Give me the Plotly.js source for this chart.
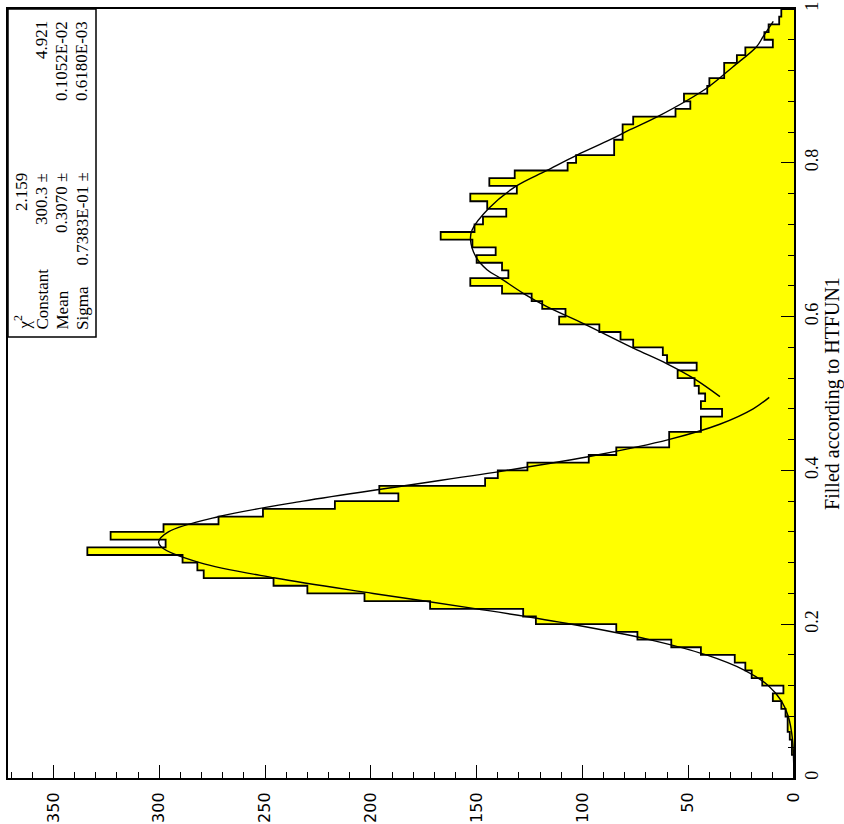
<!DOCTYPE html>
<html>
<head>
<meta charset="utf-8">
<script src="https://cdn.plot.ly/plotly-3.0.1.min.js"></script>
<style>html,body{margin:0;padding:0;background:#fff;}#chart{width:844px;height:824px;}</style>
</head>
<body>
<div id="chart"></div>
<script>
// Histogram: 100 bins on [0,1]
const binLow = 0, binHigh = 1, nBins = 100;
const binCounts = [0,0,0,1,1,2,3,3,4,6,
  10,5,15,20,23,28,44,58,74,84,
  122,128,172,203,230,246,279,282,289,334,
  297,323,298,272,251,217,187,196,146,140,
  126,97,84,59,59,44,44,34,44,42,
  45,47,55,46,60,62,76,82,92,111,
  108,119,124,138,153,135,138,150,141,152,
  167,151,147,136,145,153,131,144,132,107,
  103,85,85,81,81,76,56,49,52,41,
  40,33,33,27,23,10,14,12,7,6];

// Fitted curves
const fit1X = [0.00,0.05,0.08,0.10,0.12,0.14,0.16,0.18,0.20,0.22,0.24,0.26,0.28,0.30,0.307,0.32,0.34,0.36,0.38,0.40,0.42,0.44,0.46,0.48,0.495];
const fit1Y = [0.05,0.7,2.7,5.9,12.1,23.3,41.4,68.4,105.1,150.0,198.9,245.2,280.9,298.9,300.3,295.7,271.7,232.1,184.2,135.8,93.1,59.3,35.1,19.3,11.7];
const fit2X = [0.496,0.520,0.539,0.559,0.591,0.613,0.630,0.650,0.661,0.677,0.700,0.713,0.741,0.769,0.790,0.810,0.830,0.843,0.860,0.897,0.925,0.951,0.964,0.984];
const fit2Y = [35.0,47.6,60.2,75.9,99.5,116.8,127.8,138.8,145.1,150.2,152.9,152.1,144.2,131.7,116.8,102.6,86.9,77.5,64.5,41.3,28.8,17.7,14.6,9.8];

// Statistics box
const statLabels = ['χ<sup>2</sup>', 'Constant', 'Mean', 'Sigma'];
const statValues = ['2.159', '300.3 ±', '0.3070 ±', '0.7383E-01 ±'];
const statErrors = ['', '4.921', '0.1052E-02', '0.6180E-03'];

const xTitle = 'Filled according to HTFUN1';

// ---- build ----
const bw = (binHigh - binLow) / nBins;
const centers = binCounts.map((_, i) => binLow + (i + 0.5) * bw);
// staircase outline
const stX = [0], stY = [binLow];
binCounts.forEach((c, i) => { stX.push(c); stY.push(binLow + i * bw); });
stX.push(binCounts[nBins - 1]); stY.push(binHigh);
stX.push(0); stY.push(binHigh);

const serif = 'Liberation Serif';
const traces = [
  {type:'bar', orientation:'h', x: binCounts, y: centers, width: bw,
   marker:{color:'#ffff00', line:{width:0}}, hoverinfo:'skip'},
  {type:'scatter', mode:'lines', x: stX, y: stY, line:{color:'black', width:1.8, shape:'vh'}},
  {type:'scatter', mode:'lines', x: fit1Y, y: fit1X, line:{color:'black', width:1.4, shape:'spline'}},
  {type:'scatter', mode:'lines', x: fit2Y, y: fit2X, line:{color:'black', width:1.4, shape:'spline'}}
];

const L = 8, R = 50, T = 9, B = 46, W = 844, H = 824;
const pw = W - L - R, ph = H - T - B;
const px2x = p => (p - L) / pw;
const py2y = p => (H - B - p) / ph;

const rowX = [22, 42, 62, 82];
const annotations = [];
const stFont = {family:serif, size:17, color:'black'};
statLabels.forEach((t, i) => {
  annotations.push({xref:'paper', yref:'paper', x: px2x(rowX[i]), y: py2y(331), text: t,
    textangle:-90, showarrow:false, xanchor:'center', yanchor:'bottom', borderpad:0, font:stFont});
  annotations.push({xref:'paper', yref:'paper', x: px2x(rowX[i]), y: py2y(172), text: statValues[i],
    textangle:-90, showarrow:false, xanchor:'center', yanchor:'top', borderpad:0, font:stFont});
  if (statErrors[i]) annotations.push({xref:'paper', yref:'paper', x: px2x(rowX[i]), y: py2y(20), text: statErrors[i],
    textangle:-90, showarrow:false, xanchor:'center', yanchor:'top', borderpad:0, font:stFont});
});

const layout = {
  width: W, height: H,
  margin:{l:L, r:R, t:T, b:B, pad:0},
  paper_bgcolor:'white', plot_bgcolor:'white',
  showlegend:false, bargap:0,
  font:{family:serif, color:'black'},
  xaxis:{range:[371.5, 0], showline:true, mirror:true, linecolor:'black', linewidth:2,
    ticks:'inside', ticklen:13, tickwidth:1, tickcolor:'black', tick0:0, dtick:50,
    tickangle:-90, tickfont:{family:'DejaVu Sans', size:16, color:'black'}, ticklabelstandoff:6,
    showgrid:false, zeroline:false, automargin:false,
    minor:{dtick:10, ticks:'inside', ticklen:6, tickwidth:1, tickcolor:'black', showgrid:false}},
  yaxis:{range:[0, 1], side:'right', showline:true, mirror:true, linecolor:'black', linewidth:2,
    ticks:'inside', ticklen:13, tickwidth:1, tickcolor:'black', tick0:0, dtick:0.2,
    tickangle:-90, tickfont:{family:serif, size:18, color:'black'},
    showgrid:false, zeroline:false, automargin:false,
    minor:{dtick:0.04, ticks:'inside', ticklen:6, tickwidth:1, tickcolor:'black', showgrid:false},
    title:{text:xTitle, font:{family:serif, size:20, color:'black'}, standoff:6}},
  shapes:[{type:'rect', xref:'paper', yref:'paper', x0:0, x1:px2x(96), y0:py2y(337), y1:1,
    line:{color:'black', width:1.5}, fillcolor:'rgba(0,0,0,0)'}],
  annotations: annotations
};

Plotly.newPlot('chart', traces, layout, {displayModeBar:false, staticPlot:true});
</script>
</body>
</html>
